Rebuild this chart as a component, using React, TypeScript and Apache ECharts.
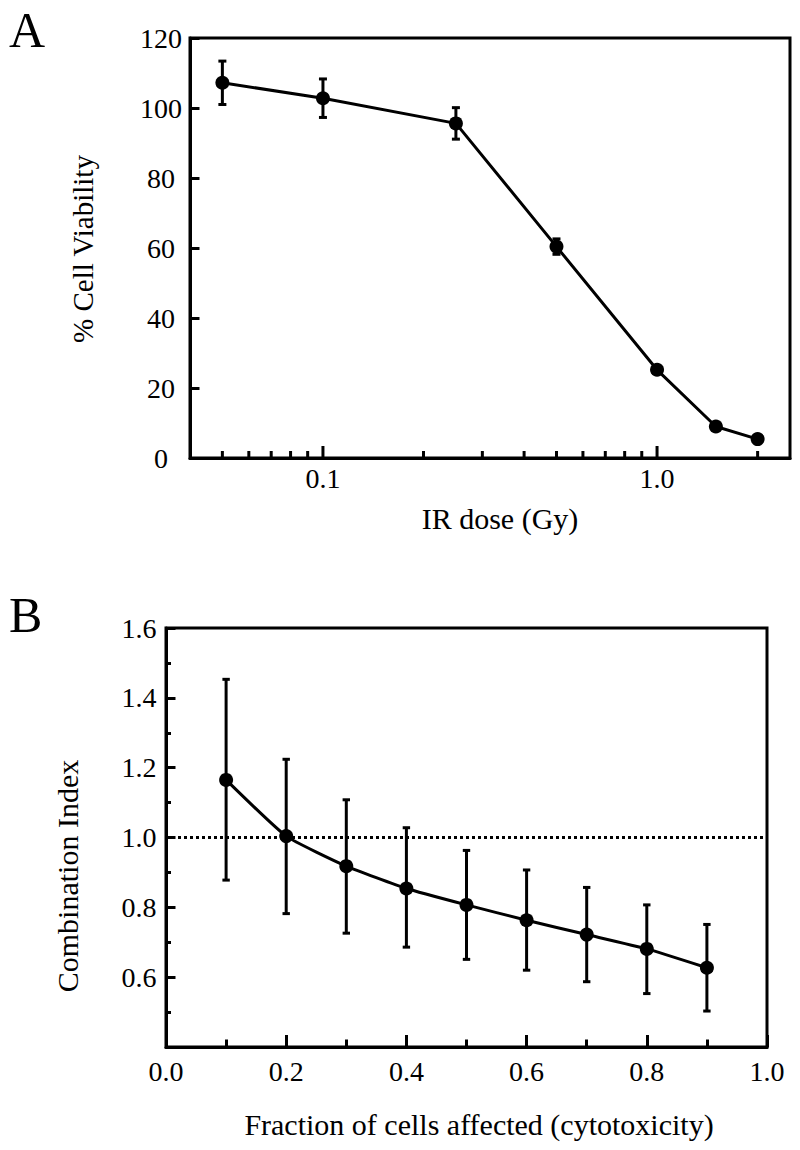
import React, { useEffect, useRef } from "react";
import * as echarts from "echarts";

// Panel A: cell viability vs IR dose
const doseA = [0.05, 0.1, 0.25, 0.5, 1.0, 1.5, 2.0];
const viabA = [107.2, 102.8, 95.6, 60.4, 25.2, 9.0, 5.4];
const errA = [6.2, 5.5, 4.5, 2.2, 1.0, 0.8, 0.8];
const xTicksA = [0.05, 0.06, 0.07, 0.08, 0.09, 0.1, 0.2, 0.3, 0.4, 0.5, 0.6, 0.7, 0.8, 0.9, 1.0, 2.0];
const xMajorA = [0.1, 1.0];
const xMajorLabelsA = ["0.1", "1.0"];

// Panel B: combination index vs fraction affected
const fracB = [0.1, 0.2, 0.3, 0.4, 0.5, 0.6, 0.7, 0.8, 0.9];
const ciB = [1.165, 1.004, 0.918, 0.854, 0.807, 0.763, 0.722, 0.681, 0.627];
const ciLoB = [0.878, 0.782, 0.726, 0.686, 0.651, 0.62, 0.587, 0.553, 0.503];
const ciHiB = [1.453, 1.224, 1.108, 1.028, 0.963, 0.907, 0.857, 0.807, 0.751];
const refLineB = [[0, 1.0], [1, 1.0]];

const FONT = '"Liberation Serif", "Times New Roman", serif';
const BLACK = "#000";

export default function App() {
  const ref = useRef<HTMLDivElement>(null);

  useEffect(() => {
    document.body.style.margin = "0";
    const chart = echarts.init(ref.current!, undefined, { renderer: "svg" });

    const errBarItem = (cap: number) => (params: any, api: any) => {
      const x = api.value(0);
      const lo = api.value(1);
      const hi = api.value(2);
      const pLo = api.coord([x, lo]);
      const pHi = api.coord([x, hi]);
      const st = { stroke: BLACK, lineWidth: 3 };
      return {
        type: "group",
        children: [
          { type: "line", shape: { x1: pLo[0], y1: pLo[1], x2: pHi[0], y2: pHi[1] }, style: st },
          { type: "line", shape: { x1: pLo[0] - cap, y1: pLo[1], x2: pLo[0] + cap, y2: pLo[1] }, style: st },
          { type: "line", shape: { x1: pHi[0] - cap, y1: pHi[1], x2: pHi[0] + cap, y2: pHi[1] }, style: st },
        ],
      };
    };

    const axisLine = { show: true, lineStyle: { color: BLACK, width: 3 } };
    const labelStyle = { color: BLACK, fontFamily: FONT, fontSize: 28 };
    const titleFont = (size: number) => `${size}px ${FONT}`;

    const option: any = {
      animation: false,
      backgroundColor: "#fff",
      grid: [
        { left: 190, top: 38, width: 600, height: 420, show: true, borderColor: BLACK, borderWidth: 3, backgroundColor: "transparent" },
        { left: 166, top: 628, width: 601, height: 419, show: true, borderColor: BLACK, borderWidth: 3, backgroundColor: "transparent" },
      ],
      xAxis: [
        {
          gridIndex: 0,
          type: "log",
          logBase: 10,
          min: 0.04,
          max: 2.5,
          axisLine,
          axisTick: { show: false },
          axisLabel: { show: false },
          splitLine: { show: false },
        },
        {
          gridIndex: 1,
          type: "value",
          min: 0,
          max: 1,
          interval: 0.2,
          axisLine,
          axisTick: { show: true, inside: true, length: 12, lineStyle: { color: BLACK, width: 3 } },
          minorTick: { show: true, splitNumber: 2, length: 7.5, lineStyle: { color: BLACK, width: 3 } },
          axisLabel: { ...labelStyle, margin: 10, formatter: (v: number) => v.toFixed(1) },
          splitLine: { show: false },
        },
      ],
      yAxis: [
        {
          gridIndex: 0,
          type: "value",
          min: 0,
          max: 120,
          interval: 20,
          axisLine,
          axisTick: { show: true, inside: true, length: 9.5, lineStyle: { color: BLACK, width: 3 } },
          axisLabel: { ...labelStyle, margin: 29, align: "center" },
          splitLine: { show: false },
        },
        {
          gridIndex: 1,
          type: "value",
          min: 0.4,
          max: 1.6,
          interval: 0.2,
          axisLine,
          axisTick: { show: true, inside: true, length: 9.5, lineStyle: { color: BLACK, width: 3 } },
          minorTick: { show: true, splitNumber: 2, length: 5, lineStyle: { color: BLACK, width: 3 } },
          axisLabel: {
            ...labelStyle,
            margin: 27,
            align: "center",
            formatter: (v: number) => (v < 0.45 ? "" : v.toFixed(1)),
          },
          splitLine: { show: false },
        },
      ],
      graphic: [
        { type: "text", left: 9, top: 5, style: { text: "A", font: titleFont(50), fill: BLACK } },
        { type: "text", left: 9, top: 590, style: { text: "B", font: titleFont(50), fill: BLACK } },
        {
          type: "text", x: 83, y: 249, rotation: Math.PI / 2,
          style: { text: "% Cell Viability", font: titleFont(29), fill: BLACK, align: "center", verticalAlign: "middle" },
        },
        {
          type: "text", x: 500, y: 518,
          style: { text: "IR dose (Gy)", font: titleFont(30), fill: BLACK, align: "center", verticalAlign: "middle" },
        },
        {
          type: "text", x: 67, y: 876, rotation: Math.PI / 2,
          style: { text: "Combination Index", font: titleFont(30), fill: BLACK, align: "center", verticalAlign: "middle" },
        },
        {
          type: "text", x: 479, y: 1124,
          style: { text: "Fraction of cells affected (cytotoxicity)", font: titleFont(30), fill: BLACK, align: "center", verticalAlign: "middle" },
        },
      ],
      series: [
        // Panel A log-axis ticks and labels
        {
          type: "custom",
          xAxisIndex: 0,
          yAxisIndex: 0,
          clip: false,
          silent: true,
          data: xTicksA.map((v) => [v, xMajorA.indexOf(v) >= 0 ? 1 : 0]),
          renderItem: (params: any, api: any) => {
            const v = api.value(0);
            const major = api.value(1) === 1;
            const p = api.coord([v, 0]);
            const len = major ? 12 : 7;
            const children: any[] = [
              { type: "line", shape: { x1: p[0], y1: p[1], x2: p[0], y2: p[1] - len }, style: { stroke: BLACK, lineWidth: 3 } },
            ];
            if (major) {
              const idx = xMajorA.indexOf(v);
              children.push({
                type: "text",
                x: p[0],
                y: p[1] + 6,
                style: { text: xMajorLabelsA[idx], font: `28px ${FONT}`, fill: BLACK, align: "center", verticalAlign: "top" },
              });
            }
            return { type: "group", children };
          },
          z: 3,
        },
        {
          type: "custom",
          xAxisIndex: 0,
          yAxisIndex: 0,
          clip: false,
          data: doseA.map((d, i) => [d, viabA[i] - errA[i], viabA[i] + errA[i]]),
          renderItem: errBarItem(4),
          z: 2,
        },
        {
          type: "line",
          xAxisIndex: 0,
          yAxisIndex: 0,
          data: doseA.map((d, i) => [d, viabA[i]]),
          symbol: "circle",
          symbolSize: 14,
          itemStyle: { color: BLACK },
          lineStyle: { color: BLACK, width: 3 },
          z: 4,
        },
        // Panel B
        {
          type: "line",
          xAxisIndex: 1,
          yAxisIndex: 1,
          data: refLineB,
          symbol: "none",
          lineStyle: { color: BLACK, width: 3, type: [3, 3] },
          z: 1,
        },
        {
          type: "custom",
          xAxisIndex: 1,
          yAxisIndex: 1,
          clip: false,
          data: fracB.map((f, i) => [f, ciLoB[i], ciHiB[i]]),
          renderItem: errBarItem(3.7),
          z: 2,
        },
        {
          type: "line",
          xAxisIndex: 1,
          yAxisIndex: 1,
          data: fracB.map((f, i) => [f, ciB[i]]),
          symbol: "circle",
          symbolSize: 14,
          smooth: 0.15,
          itemStyle: { color: BLACK },
          lineStyle: { color: BLACK, width: 3 },
          z: 4,
        },
      ],
    };

    chart.setOption(option);
    return () => chart.dispose();
  }, []);

  return <div ref={ref} style={{ width: 800, height: 1150 }} />;
}
